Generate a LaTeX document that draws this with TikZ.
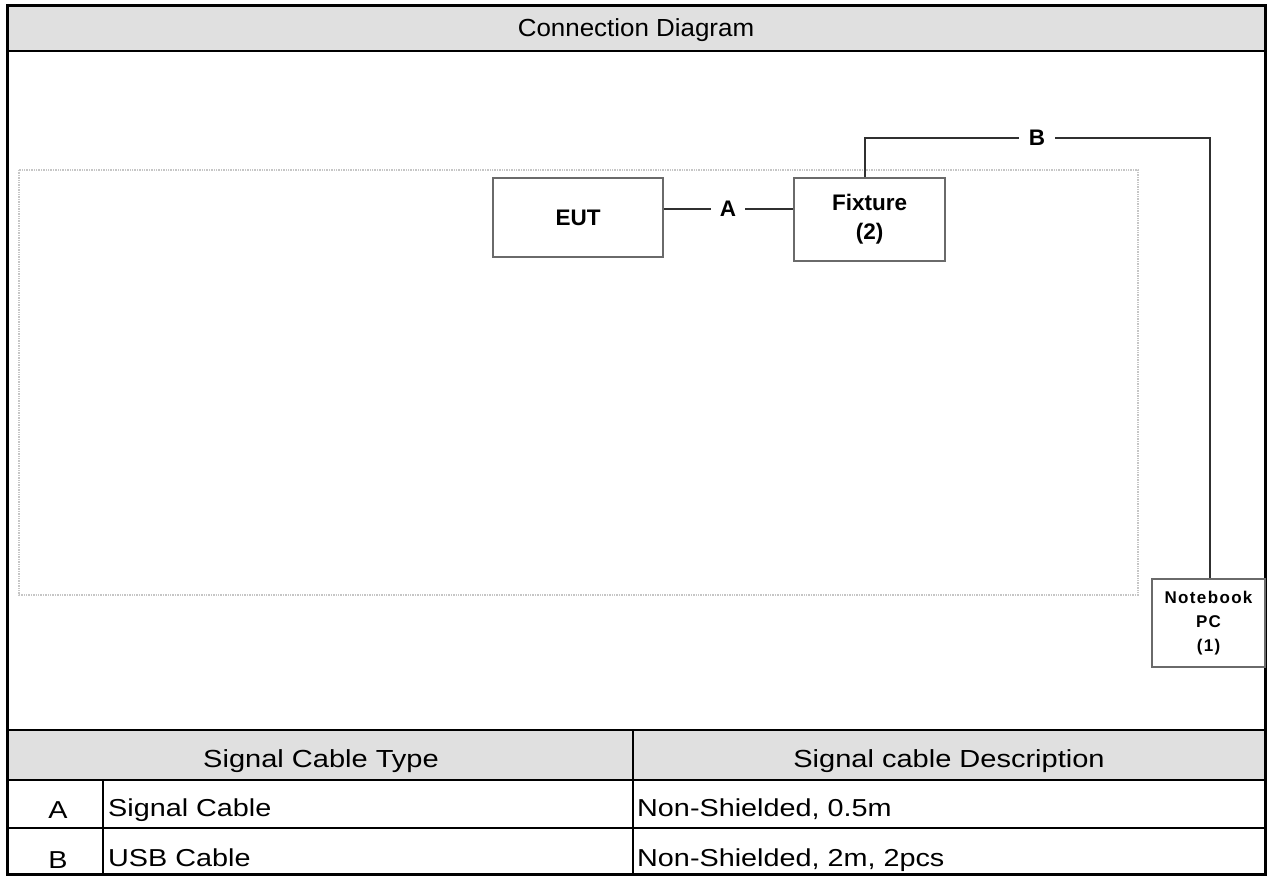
\documentclass[tikz,border=0pt]{standalone}
\usepackage{graphicx}
\usepackage{fontspec}
\setmainfont{Liberation Sans}
\newfontfamily\nbfont[LetterSpace=8]{Liberation Sans}
\newcommand\widetext[1]{\scalebox{1.175}[1]{#1}}
\newcommand\titletext[1]{\scalebox{1.05}[1]{#1}}
\definecolor{hdrgray}{HTML}{E0E0E0}
\definecolor{boxgray}{HTML}{6A6A6A}
\definecolor{cablegray}{HTML}{303030}
\begin{document}
\begin{tikzpicture}[x=1pt,y=-1pt,
  frame/.style={draw=black,line width=3pt},
  grid/.style={draw=black,line width=2.6pt},
  tabtext/.style={inner sep=0pt,font=\fontsize{24.5}{28}\selectfont},
  headtext/.style={inner sep=0pt,font=\fontsize{24.7}{28}\selectfont},
  devbox/.style={draw=boxgray,line width=1.3pt,inner sep=0pt,align=center,font=\bfseries\fontsize{22.5}{29}\selectfont},
  cable/.style={draw=cablegray,line width=1.8pt},
  cablelab/.style={inner sep=9pt,font=\bfseries\fontsize{22.5}{25}\selectfont},
  testtable/.style={draw=gray!45,line width=1.4pt,densely dotted}
]
\useasboundingbox (0,0) rectangle (1269,876);
% header fills
\fill[hdrgray] (7,5) rectangle (1265,51);
\fill[hdrgray] (7,730) rectangle (1265,780);
% test table area
\draw[testtable] (19,170) rectangle (1138,595);
% grid lines
\draw[grid] (7,51) -- (1265,51);
\draw[grid] (7,730) -- (1265,730);
\draw[grid] (7,780) -- (1265,780);
\draw[grid] (7,828) -- (1265,828);
\draw[grid] (633,730) -- (633,876);
\draw[grid] (103,780) -- (103,876);
\draw[frame] (7,5) rectangle (1265,874.5);
% texts
\node[headtext,anchor=base] (title) at (636,36) {\titletext{Connection Diagram}};
\node[headtext,anchor=base] (h1) at (321,767) {\widetext{Signal Cable Type}};
\node[headtext,anchor=base] (h2) at (949,767) {\widetext{Signal cable Description}};
\node[tabtext,anchor=base] (ra) at (58,818) {\widetext{A}};
\node[tabtext,anchor=base] (rb) at (58,868) {\widetext{B}};
\node[tabtext,anchor=base west] (ta) at (108,816) {\widetext{Signal Cable}};
\node[tabtext,anchor=base west] (tb) at (108,866) {\widetext{USB Cable}};
\node[tabtext,anchor=base west] (da) at (637,816) {\widetext{Non-Shielded, 0.5m}};
\node[tabtext,anchor=base west] (db) at (637,866) {\widetext{Non-Shielded, 2m, 2pcs}};
% devices
\node[devbox,minimum width=170pt,minimum height=79pt] (eut) at (578,217.5) {EUT};
\node[devbox,minimum width=151pt,minimum height=83pt] (fix) at (869.5,219.5) {Fixture\\(2)};
\node[devbox,minimum width=113pt,minimum height=88pt,font=\bfseries\nbfont\fontsize{17}{24}\selectfont] (nb) at (1208.5,623) {Notebook\\PC\\(1)};
% cables
\node[cablelab] (la) at (728,209) {A};
\draw[cable] (la) -- (la -| eut.east);
\draw[cable] (la) -- (la -| fix.west);
\coordinate (b1) at (865,138);
\coordinate (b2) at (1210,138);
\node[cablelab,inner sep=10pt] (lb) at (1037,138) {B};
\draw[cable] (b1 |- fix.north) -- (b1) -- (lb);
\draw[cable] (lb) -- (b2) -- (b2 |- nb.north);
\end{tikzpicture}
\end{document}
